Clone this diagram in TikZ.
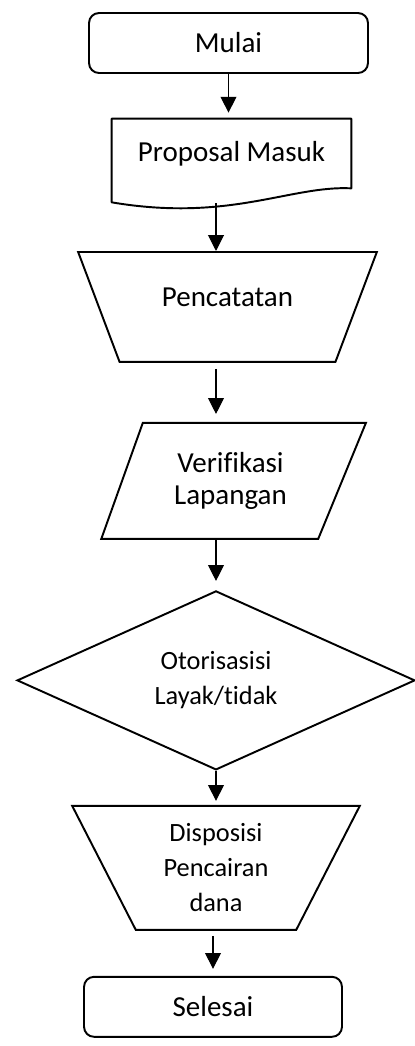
\documentclass[tikz,border=0pt]{standalone}
\usepackage{fontspec}
\setmainfont{Carlito}[Ligatures=NoCommon]
\usepackage{tikz}
\usetikzlibrary{arrows.meta,shapes,calc}
\usetikzlibrary{positioning}
\usetikzlibrary{shapes.geometric}
\tikzstyle{base} = [draw=black, line width=1.1pt, text centered, font=\fontsize{16.5}{18.5}\selectfont]
\tikzstyle{startstop} = [base, rectangle, rounded corners=0.2cm, minimum height=1.2cm]
\tikzstyle{doc} = [rectangle, text centered, minimum width=4.78cm, minimum height=1.38cm, font=\fontsize{16.5}{18.5}\selectfont]
\tikzstyle{manual} = [base, trapezium, shape border rotate=180, trapezium stretches=true]
\tikzstyle{io} = [base, trapezium, trapezium stretches=true]
\tikzstyle{decision} = [base, diamond, aspect=2.2, inner sep=0pt]
\tikzstyle{outline} = [draw=black, line width=1.1pt, line join=round]
\tikzstyle{arrow} = [line width=0.6pt, -{Triangle[length=9pt, width=9pt]}]
\tikzstyle{small} = [font=\fontsize{15}{20}\selectfont]

\begin{document}
\begin{tikzpicture}[x=0.02cm, y=-0.02cm]
                    \useasboundingbox (0,0) rectangle (414,1046);
                    \node (mulai) [startstop, minimum width=5.58cm] at (228.5,43) {Mulai};
                    \node (proposal) [doc, below of=mulai, node distance=2.21cm, xshift=0.06cm] {Proposal Masuk};
                    \node (pencatatan) [manual, below of=proposal, node distance=3.07cm, xshift=-0.08cm, trapezium angle=61.4, minimum width=5.98cm, minimum height=2.2cm, text depth=0.4cm] {Pencatatan};
                    \node (verifikasi) [io, below of=pencatatan, node distance=3.48cm, xshift=0.06cm, trapezium left angle=67, trapezium right angle=116, minimum width=5.3cm, minimum height=2.32cm, align=center] {Verifikasi\\Lapangan};
                    \node (otorisasi) [decision, small, below of=verifikasi, node distance=3.99cm, xshift=-0.29cm, minimum width=7.96cm, minimum height=3.58cm, align=center] {Otorisasisi\\Layak/tidak};
                    \node (disposisi) [manual, small, below of=otorisasi, node distance=3.75cm, trapezium angle=65.3, minimum width=5.76cm, minimum height=2.48cm, align=center] {Disposisi\\Pencairan\\dana};
                    \node (selesai) [startstop, below of=disposisi, node distance=2.78cm, xshift=-0.06cm, minimum width=5.16cm] {Selesai};
                    % document shape with wavy bottom
                    \draw [outline] (proposal.north west) -- (proposal.north east) -- (proposal.south east)
                        .. controls ($(proposal.south east)+(-61,-3)$) and ($(proposal.south west)+(118,34)$) .. ($(proposal.south west)+(0,14)$) -- cycle;
                    \draw [arrow, shorten >=0.12cm] (mulai.south) -- (mulai.south |- proposal.north);
                    \draw [arrow] ([yshift=-0.3cm]proposal.south -| otorisasi.north) -- (pencatatan.north -| otorisasi.north);
                    \draw [arrow, shorten <=0.12cm, shorten >=0.16cm] (pencatatan.south -| otorisasi.north) -- (verifikasi.north -| otorisasi.north);
                    \draw [arrow, shorten >=0.18cm] (verifikasi.south -| otorisasi.north) -- (otorisasi.north);
                    \draw [arrow, shorten >=0.08cm] (otorisasi.south) -- (disposisi.north -| otorisasi.south);
                    \draw [arrow, shorten <=0.1cm, shorten >=0.14cm] (selesai.north |- disposisi.south) -- (selesai.north);
                \end{tikzpicture}
\end{document}
